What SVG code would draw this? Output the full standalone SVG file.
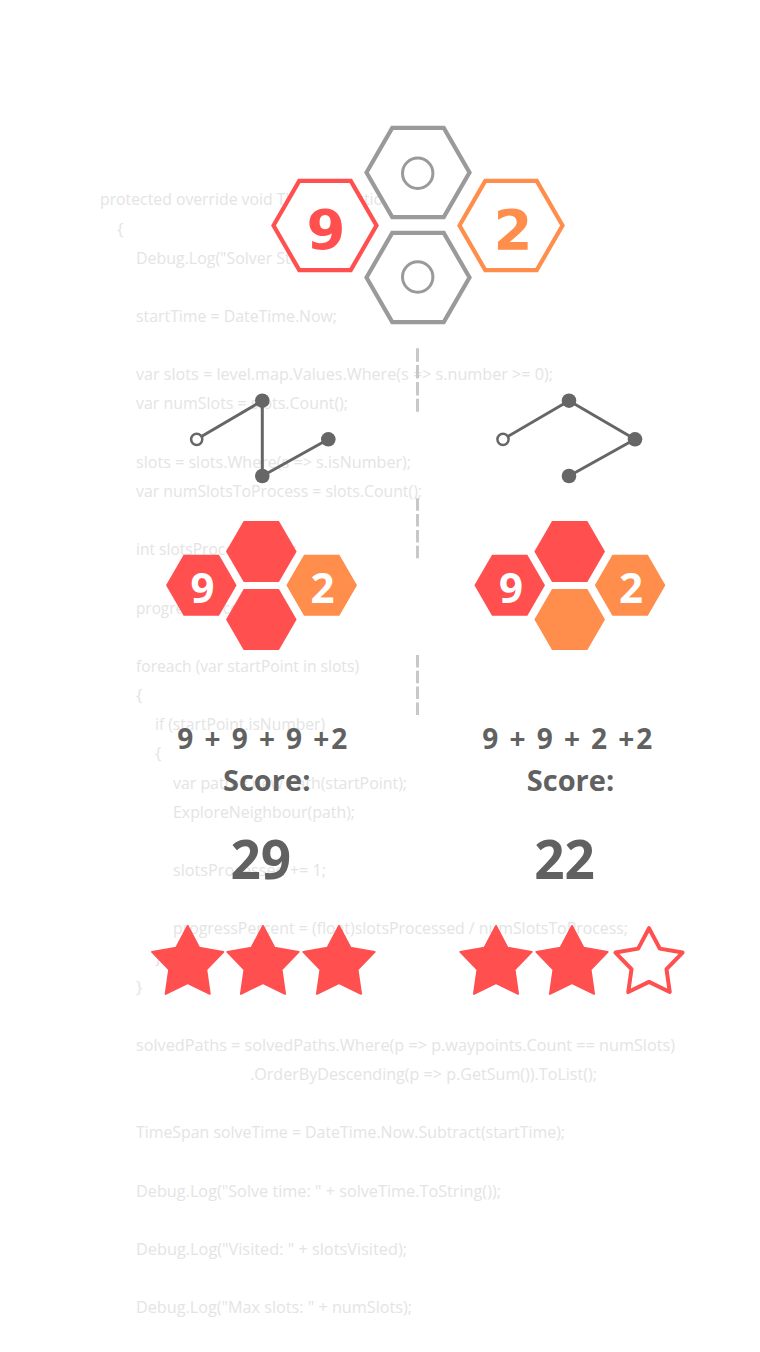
<svg xmlns="http://www.w3.org/2000/svg" xmlns:xlink="http://www.w3.org/1999/xlink" width="760" height="1352" viewBox="0 0 760 1352">
<style>
.code{font-family:"Open Sans","Segoe UI","DejaVu Sans",sans-serif;font-size:17px;fill:#e4e4e4}
.hexo{fill:#ffffff;stroke-width:4.2;stroke-linejoin:miter}
.gray{stroke:#9a9a9a}
.redS{stroke:#ff4f4f}
.oraS{stroke:#ff8d4b}
.redF{fill:#ff4f4f}
.oraF{fill:#ff8d4b}
.ring{fill:none;stroke:#9a9a9a;stroke-width:3}
.bigd{font-family:"DejaVu Sans",Verdana,sans-serif;font-weight:bold;font-size:56px;text-anchor:middle}
.smd{font-family:"Open Sans","Segoe UI",sans-serif;font-weight:bold;font-size:42px;text-anchor:middle;fill:#ffffff}
.edge{stroke:#666666;stroke-width:3;fill:none;stroke-linecap:round}
.node{fill:#666666}
.open{fill:#ffffff;stroke:#666666;stroke-width:2.5}
.dash{stroke:#c8c8c8;stroke-width:3;fill:none}
.sc{font-family:"Open Sans","Segoe UI",sans-serif;font-weight:bold;fill:#616161;text-anchor:middle}
.star{fill:#ff4f4f;stroke:#ff4f4f;stroke-width:2;stroke-linejoin:round}
.staro{fill:#ffffff;stroke:#ff4f4f;stroke-width:4;stroke-linejoin:round}
</style>
<defs>
<path id="hexL" d="M-51.5,0 L-25.75,-44.6 L25.75,-44.6 L51.5,0 L25.75,44.6 L-25.75,44.6 Z"/>
<path id="hexS" d="M-35.3,0 L-17.65,-30.57 L17.65,-30.57 L35.3,0 L17.65,30.57 L-17.65,30.57 Z"/>
<path id="starF" d="M0,-37.5 L11.46,-15.78 L35.67,-11.59 L18.55,6.03 L22.04,30.34 L0,19.5 L-22.04,30.34 L-18.55,6.03 L-35.67,-11.59 L-11.46,-15.78 Z"/>
<path id="starO" d="M0,-35.3 L10.82,-14.89 L33.57,-10.91 L17.5,5.69 L20.75,28.56 L0,18.4 L-20.75,28.56 L-17.5,5.69 L-33.57,-10.91 L-10.82,-14.89 Z"/>
</defs>
<rect width="760" height="1352" fill="#ffffff"/>

<g id="code">
<text class="code" x="100" y="205.3" textLength="302" lengthAdjust="spacingAndGlyphs">protected override void ThreadFunction()</text>
<text class="code" x="117" y="234.5">{</text>
<text class="code" x="136" y="263.6" textLength="191" lengthAdjust="spacingAndGlyphs">Debug.Log("Solver Start");</text>
<text class="code" x="136" y="322" textLength="201" lengthAdjust="spacingAndGlyphs">startTime = DateTime.Now;</text>
<text class="code" x="136" y="380.3" textLength="417" lengthAdjust="spacingAndGlyphs">var slots = level.map.Values.Where(s =&gt; s.number &gt;= 0);</text>
<text class="code" x="136" y="409.4" textLength="212" lengthAdjust="spacingAndGlyphs">var numSlots = slots.Count();</text>
<text class="code" x="136" y="467.7" textLength="275" lengthAdjust="spacingAndGlyphs">slots = slots.Where(s =&gt; s.isNumber);</text>
<text class="code" x="136" y="496.9" textLength="286" lengthAdjust="spacingAndGlyphs">var numSlotsToProcess = slots.Count();</text>
<text class="code" x="136" y="555.2" textLength="161" lengthAdjust="spacingAndGlyphs">int slotsProcessed = 0;</text>
<text class="code" x="136" y="613.5" textLength="147" lengthAdjust="spacingAndGlyphs">progressPercent = 0;</text>
<text class="code" x="136" y="671.9" textLength="223" lengthAdjust="spacingAndGlyphs">foreach (var startPoint in slots)</text>
<text class="code" x="136" y="701">{</text>
<text class="code" x="155" y="730.2" textLength="170" lengthAdjust="spacingAndGlyphs">if (startPoint.isNumber)</text>
<text class="code" x="155" y="759.3">{</text>
<text class="code" x="173" y="788.5" textLength="234" lengthAdjust="spacingAndGlyphs">var path = new Path(startPoint);</text>
<text class="code" x="173" y="817.7" textLength="182" lengthAdjust="spacingAndGlyphs">ExploreNeighbour(path);</text>
<text class="code" x="173" y="876" textLength="153" lengthAdjust="spacingAndGlyphs">slotsProcessed += 1;</text>
<text class="code" x="173" y="934.3" textLength="455" lengthAdjust="spacingAndGlyphs">progressPercent = (float)slotsProcessed / numSlotsToProcess;</text>
<text class="code" x="155" y="963.5">}</text>
<text class="code" x="136" y="992.6">}</text>
<text class="code" x="136" y="1050.9" textLength="539" lengthAdjust="spacingAndGlyphs">solvedPaths = solvedPaths.Where(p =&gt; p.waypoints.Count == numSlots)</text>
<text class="code" x="250" y="1080.1" textLength="347" lengthAdjust="spacingAndGlyphs">.OrderByDescending(p =&gt; p.GetSum()).ToList();</text>
<text class="code" x="136" y="1138.4" textLength="429" lengthAdjust="spacingAndGlyphs">TimeSpan solveTime = DateTime.Now.Subtract(startTime);</text>
<text class="code" x="136" y="1196.7" textLength="365" lengthAdjust="spacingAndGlyphs">Debug.Log("Solve time: " + solveTime.ToString());</text>
<text class="code" x="136" y="1255" textLength="271" lengthAdjust="spacingAndGlyphs">Debug.Log("Visited: " + slotsVisited);</text>
<text class="code" x="136" y="1313.4" textLength="276" lengthAdjust="spacingAndGlyphs">Debug.Log("Max slots: " + numSlots);</text>
</g>

<g id="top-hexes">
<g id="hex-top-gray"><use xlink:href="#hexL" href="#hexL" x="418" y="172.5" class="hexo gray"/><circle class="ring" cx="417.7" cy="173.3" r="15.2"/></g>
<g id="hex-bottom-gray"><use xlink:href="#hexL" href="#hexL" x="418" y="277.5" class="hexo gray"/><circle class="ring" cx="417.7" cy="277" r="15.2"/></g>
<g id="hex-9"><use xlink:href="#hexL" href="#hexL" x="325" y="225.5" class="hexo redS"/><text class="bigd redF" x="326" y="248.5">9</text></g>
<g id="hex-2"><use xlink:href="#hexL" href="#hexL" x="511" y="225.5" class="hexo oraS"/><text class="bigd oraF" x="513" y="248.5">2</text></g>
</g>

<g id="separators">
<line class="dash" x1="417.5" y1="348.3" x2="417.5" y2="411.7" stroke-dasharray="13.5 3.3"/>
<line class="dash" x1="417.5" y1="498.3" x2="417.5" y2="558.3" stroke-dasharray="12.5 3.3"/>
<line class="dash" x1="417.5" y1="655" x2="417.5" y2="715" stroke-dasharray="12.5 3.3"/>
</g>

<g id="connectors">
<line class="edge" x1="196.7" y1="439.3" x2="262.3" y2="400.7"/>
<line class="edge" x1="262.3" y1="400.7" x2="262.3" y2="476"/>
<line class="edge" x1="262.3" y1="476" x2="328.3" y2="439.3"/>
<line class="edge" x1="503" y1="439.3" x2="569" y2="400.7"/>
<line class="edge" x1="569" y1="400.7" x2="635" y2="439.3"/>
<line class="edge" x1="635" y1="439.3" x2="569" y2="476"/>
</g>

<g id="graph-left">
<circle id="gl-start" class="open" cx="196.7" cy="439.3" r="5.6"/>
<circle id="gl-top" class="node" cx="262.3" cy="400.7" r="7.3"/>
<circle id="gl-bottom" class="node" cx="262.3" cy="476" r="7.3"/>
<circle id="gl-right" class="node" cx="328.3" cy="439.3" r="7.3"/>
</g>
<g id="graph-right">
<circle id="gr-start" class="open" cx="503" cy="439.3" r="5.6"/>
<circle id="gr-top" class="node" cx="569" cy="400.7" r="7.3"/>
<circle id="gr-right" class="node" cx="635" cy="439.3" r="7.3"/>
<circle id="gr-bottom" class="node" cx="569" cy="476" r="7.3"/>
</g>

<g id="cluster-left">
<use xlink:href="#hexS" href="#hexS" x="261.3" y="551.5" class="redF"/>
<use xlink:href="#hexS" href="#hexS" x="261.3" y="619.5" class="redF"/>
<g id="cl-9"><use xlink:href="#hexS" href="#hexS" x="201.3" y="585.3" class="redF"/><text class="smd" x="202.5" y="602.5">9</text></g>
<g id="cl-2"><use xlink:href="#hexS" href="#hexS" x="321.7" y="585.3" class="oraF"/><text class="smd" x="322.5" y="602.5">2</text></g>
</g>
<g id="cluster-right">
<use xlink:href="#hexS" href="#hexS" x="569.7" y="551.5" class="redF"/>
<use xlink:href="#hexS" href="#hexS" x="569.7" y="619.5" class="oraF"/>
<g id="cr-9"><use xlink:href="#hexS" href="#hexS" x="509.7" y="585.3" class="redF"/><text class="smd" x="510.9" y="602.5">9</text></g>
<g id="cr-2"><use xlink:href="#hexS" href="#hexS" x="630.1" y="585.3" class="oraF"/><text class="smd" x="630.9" y="602.5">2</text></g>
</g>

<g id="score-left">
<text class="sc" x="262.3" y="748.5" font-size="28" textLength="170" lengthAdjust="spacing">9 + 9 + 9 +2</text>
<text class="sc" x="266.7" y="791" font-size="29">Score:</text>
<text class="sc" x="260.8" y="878.5" font-size="53">29</text>
</g>
<g id="score-right">
<text class="sc" x="567.3" y="748.5" font-size="28" textLength="170" lengthAdjust="spacing">9 + 9 + 2 +2</text>
<text class="sc" x="570.5" y="791" font-size="29">Score:</text>
<text class="sc" x="564.5" y="878.5" font-size="53">22</text>
</g>

<g id="stars-left">
<use xlink:href="#starF" href="#starF" x="187.7" y="963.5" class="star"/>
<use xlink:href="#starF" href="#starF" x="263" y="963.5" class="star"/>
<use xlink:href="#starF" href="#starF" x="339" y="963.5" class="star"/>
</g>
<g id="stars-right">
<use xlink:href="#starF" href="#starF" x="496" y="963.5" class="star"/>
<use xlink:href="#starF" href="#starF" x="572" y="963.5" class="star"/>
<use xlink:href="#starO" href="#starO" x="649" y="963.5" class="staro"/>
</g>
</svg>
